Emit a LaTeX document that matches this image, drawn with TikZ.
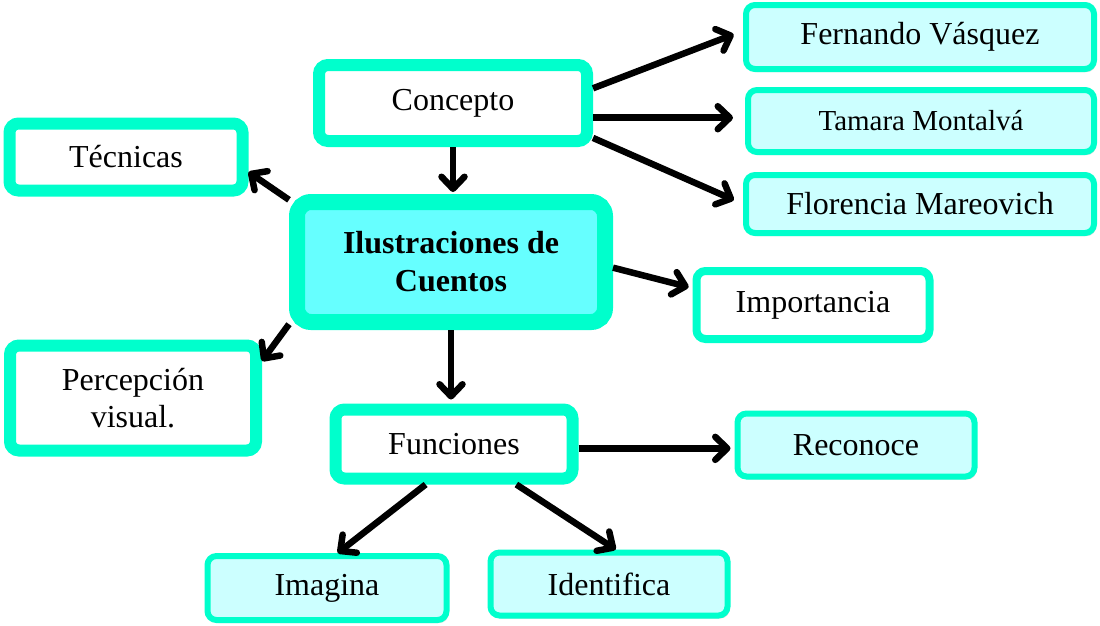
\documentclass[tikz,border=0pt]{standalone}
\usepackage{fontspec}
\setmainfont{Liberation Serif}
\usetikzlibrary{arrows.meta,shadows}
\definecolor{aqua}{RGB}{0,255,204}
\definecolor{paleaqua}{RGB}{204,255,255}
\definecolor{mainaqua}{RGB}{102,255,255}
\begin{document}
\begin{tikzpicture}[x=1pt,y=-1pt,
  >={Straight Barb[length=12pt,width=23pt,round]},
  font=\fontsize{32}{37}\selectfont,
  whitebox/.style={draw=aqua,line width=12pt,fill=white,rounded corners=9pt,align=center},
  cyanbox/.style={draw=aqua,line width=6pt,fill=paleaqua,rounded corners=9pt,
    drop shadow={shadow xshift=2pt,shadow yshift=-3pt,opacity=.25,fill=gray}},
  link/.style={line width=6.5pt,->}]
\useasboundingbox (0,0) rectangle (1100,625);
\node[whitebox,minimum width=268pt,minimum height=76pt] (concepto) at (453,103) {Concepto};
\node[whitebox,minimum width=233pt,minimum height=67pt] (tecnicas) at (126,157) {Técnicas};
\node[draw=aqua,line width=16pt,fill=mainaqua,rounded corners=14pt,align=center,
  minimum width=308pt,minimum height=120pt,font=\fontsize{32}{38}\selectfont\bfseries,
  drop shadow={shadow xshift=2pt,shadow yshift=-3pt,opacity=.25,fill=gray}]
  (ilustraciones) at (451,262) {Ilustraciones de\\Cuentos};
\node[whitebox,line width=8pt,minimum width=233pt,minimum height=68pt] (importancia) at (813,305) {Importancia};
\node[whitebox,minimum width=246pt,minimum height=105pt] (percepcion) at (133,398) {Percepción\\visual.};
\node[whitebox,minimum width=237pt,minimum height=69pt] (funciones) at (454,444) {Funciones};
\node[cyanbox,minimum width=348pt,minimum height=64pt] (fernando) at (920,37) {Fernando Vásquez};
\node[cyanbox,minimum width=346pt,minimum height=62pt,font=\fontsize{29}{34}\selectfont] (tamara) at (921,121) {Tamara Montalvá};
\node[cyanbox,minimum width=348pt,minimum height=58pt] (florencia) at (920,204) {Florencia Mareovich};
\node[cyanbox,minimum width=237pt,minimum height=63pt] (reconoce) at (856,445) {Reconoce};
\node[cyanbox,minimum width=239pt,minimum height=64pt] (imagina) at (327,588) {Imagina};
\node[cyanbox,minimum width=237pt,minimum height=63pt] (identifica) at (609,584) {Identifica};
% conectores
\draw[link,shorten >=10pt] (concepto.6) -- (fernando.178);
\draw[link,shorten >=12pt] (concepto.-6) -- (concepto.-6 -| tamara.west);
\draw[link,shorten >=10pt] (concepto.-14) -- (florencia.west);
\draw[link,shorten >=2pt] (concepto.south) -- (concepto.south |- ilustraciones.north);
\draw[link] (ilustraciones.159) -- (tecnicas.-7);
\draw[link] (ilustraciones.201) -- (percepcion.16);
\draw[link,shorten >=4pt] (ilustraciones.-2) -- (importancia.172);
\draw[link,shorten >=4pt] (ilustraciones.south) -- (ilustraciones.south |- funciones.north);
\draw[link,shorten >=4pt] (funciones.-2) -- (funciones.-2 -| reconoce.west);
\draw[link] (funciones.235) -- (imagina.73);
\draw[link] (funciones.-33) -- (identifica.79);
\end{tikzpicture}
\end{document}
